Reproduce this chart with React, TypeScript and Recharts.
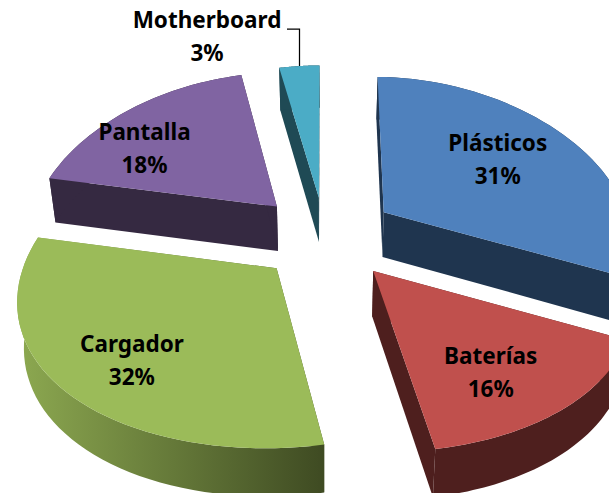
import React from "react";
import { Pie, PieChart } from "recharts";

const names = ["Plásticos", "Baterías", "Cargador", "Pantalla", "Motherboard"];
const shares = [31, 16, 32, 18, 3];

const FACE_COLORS = ["#4F81BD", "#C0504D", "#9BBB59", "#8064A2", "#4BACC6"];
const WALL_COLORS = ["#1F354F", "#4E1F1E", "url(#cargadorWall)", "#352941", "#1F4A55"];
// label offset from the slice's projected mid point
const LABEL_NUDGE = [
  [0, -8],
  [10, 19],
  [-17, 20],
  [-40, 2],
  [0, 0],
];
// small extra pull for each slice, the explosion is not even in the original
const SLICE_PULL = [
  [4, -3],
  [4, 0],
  [2, 1],
  [-3, -2],
  [0, 0],
];

const chartData = names.map((name, i) => ({ name, value: shares[i] }));

// fake 3D: the unit disc is tilted and put in perspective
const CX = 325;
const CY = 238;
const RX = 250;
const RY = 154.3;
const PERSPECTIVE_X = 0.13;
const PERSPECTIVE_Y = 0.106;
const SAG = 6;
const EXPLODE = 0.27;
const CONVERGE = 0.022;

const rad = (deg: number) => (deg * Math.PI) / 180;

const project = (x: number, z: number) => [
  CX + (RX * x) / (1 - PERSPECTIVE_X * z),
  CY + (RY * z) / (1 - PERSPECTIVE_Y * z) + SAG * x * x,
];

const dropped = ([x, y]: number[]) => [x + (CX - x) * CONVERGE, y + 45 + (y - CY) * 0.015];

// arc of a slice on the tilted disc, apex kept apart
const outline = (startAngle: number, endAngle: number, index: number) => {
  const mid = rad((startAngle + endAngle) / 2);
  const ox = EXPLODE * Math.cos(mid);
  const oz = -EXPLODE * Math.sin(mid);
  const [px, py] = SLICE_PULL[index];
  const place = (x: number, z: number) => {
    const [sx, sy] = project(x, z);
    return [sx + px, sy + py];
  };
  const arc: number[][] = [];
  const steps = 48;
  for (let i = 0; i <= steps; i++) {
    const a = rad(startAngle + ((endAngle - startAngle) * i) / steps);
    arc.push(place(ox + Math.cos(a), oz - Math.sin(a)));
  }
  return { apex: place(ox, oz), arc };
};

const toPath = (pts: number[][]) =>
  "M" + pts.map((p) => `${p[0].toFixed(1)},${p[1].toFixed(1)}`).join("L") + "Z";

const Slice3D = (props: any) => {
  const { startAngle, endAngle, index } = props;
  const { apex, arc } = outline(startAngle, endAngle, index);
  const first = arc[0];
  const last = arc[arc.length - 1];
  const wall = WALL_COLORS[index];
  return (
    <g>
      <path d={toPath([apex, first, dropped(first), dropped(apex)])} fill={wall} />
      <path d={toPath([apex, last, dropped(last), dropped(apex)])} fill={wall} />
      <path d={toPath([...arc, ...arc.map(dropped).reverse()])} fill={wall} />
      <path d={toPath([apex, ...arc])} fill={FACE_COLORS[index]} />
    </g>
  );
};

const textStyle = {
  fontFamily: "Noto Sans",
  fontWeight: 700,
  fontSize: 22.5,
  fill: "#000",
};

const SliceLabel = (props: any) => {
  const { midAngle, index, name, value } = props;
  const mid = rad(midAngle);
  const isSmall = index === 4;
  const reach = EXPLODE + (isSmall ? 1 : 0.62);
  const [ax, ay] = project(reach * Math.cos(mid), -reach * Math.sin(mid));
  const [nx, ny] = LABEL_NUDGE[index];
  const x = isSmall ? 207 : ax + nx;
  const y = isSmall ? 37 : ay + ny;
  return (
    <g>
      {isSmall && (
        <path
          d={`M${Math.round(ax + nx) + 0.5},${ay}V29H287`}
          fill="none"
          stroke="#000"
          strokeWidth={1.25}
        />
      )}
      <text x={x} y={y - 9} textAnchor="middle" style={textStyle}>
        {name}
      </text>
      <text x={x} y={y + 24} textAnchor="middle" style={textStyle}>
        {value}%
      </text>
    </g>
  );
};

export default function App() {
  return (
    <div style={{ position: "absolute", left: 0, top: 0, background: "#fff" }}>
      <PieChart width={609} height={493} margin={{ top: 0, right: 0, bottom: 0, left: 0 }}>
        <defs>
          <linearGradient id="cargadorWall" gradientUnits="userSpaceOnUse" x1="20" y1="0" x2="326" y2="0">
            <stop offset="0" stopColor="#8CA850" />
            <stop offset="1" stopColor="#3E4A22" />
          </linearGradient>
        </defs>
        <Pie
          data={chartData}
          dataKey="value"
          nameKey="name"
          cx={CX}
          cy={CY}
          outerRadius={160}
          startAngle={90}
          endAngle={-270}
          stroke="none"
          shape={Slice3D}
          label={SliceLabel}
          labelLine={false}
          isAnimationActive={false}
        />
      </PieChart>
    </div>
  );
}
